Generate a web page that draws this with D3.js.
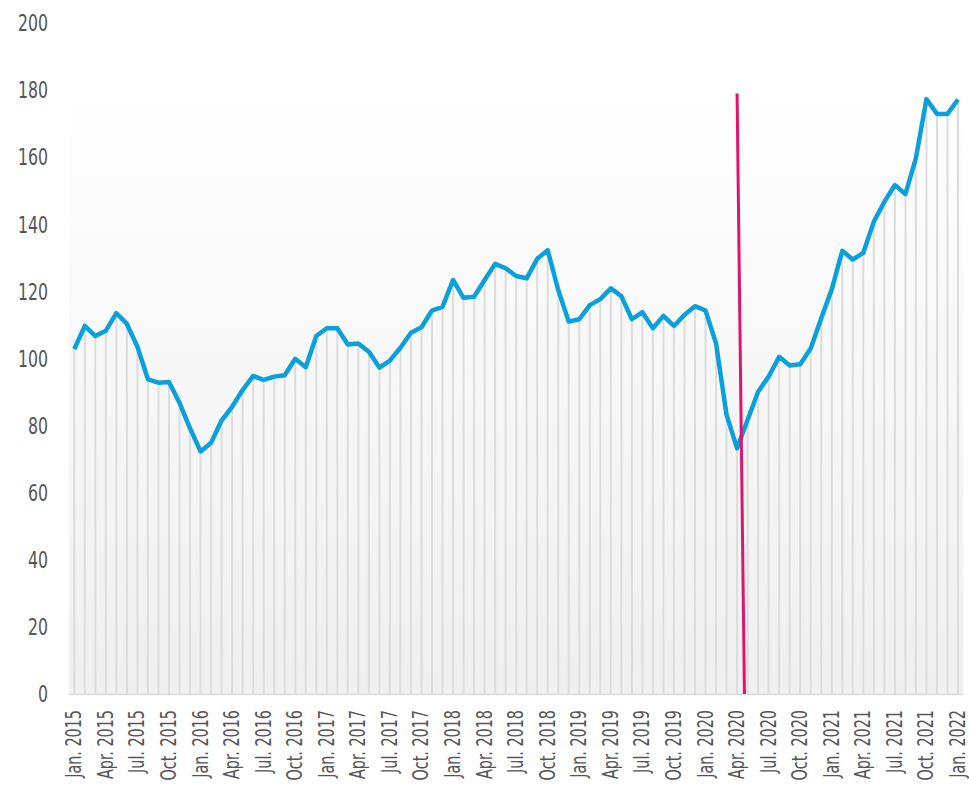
<!DOCTYPE html>
<html>
<head>
<meta charset="utf-8">
<script src="https://cdn.jsdelivr.net/npm/d3@7"></script>
<style>
  body { margin: 0; background: #fff; }
  text { font-family: "DejaVu Sans Condensed", "Liberation Sans Narrow", sans-serif; fill: #555; }
</style>
</head>
<body>
<div class="graph"></div>
<script>
// monthly values, Jan. 2015 .. Jan. 2022
var values = [
  102.8, 109.7, 106.7, 108.3, 113.5, 110.3, 103.5, 93.8, 92.8, 93.0, 86.8, 79.2,
  72.3, 74.9, 81.5, 85.6, 90.6, 94.8, 93.6, 94.6, 95.0, 99.9, 97.4, 106.7,
  109.0, 109.0, 104.2, 104.5, 102.0, 97.3, 99.4, 103.2, 107.7, 109.3, 114.3, 115.4,
  123.4, 118.1, 118.4, 123.4, 128.2, 126.9, 124.6, 123.9, 129.7, 132.3, 120.4, 111.0,
  111.7, 115.9, 117.7, 120.9, 118.6, 111.7, 113.8, 109.0, 112.7, 109.7, 113.0, 115.6,
  114.3, 104.5, 83.2, 73.2, 81.7, 90.1, 94.6, 100.5, 97.9, 98.3, 103.0, 112.0,
  120.6, 132.1, 129.5, 131.5, 140.8, 146.7, 151.7, 149.0, 159.7, 177.3, 172.9, 172.9,
  177.2
]

var tickLabels = [
  "Jan. 2015", "Apr. 2015", "Jul. 2015", "Oct. 2015",
  "Jan. 2016", "Apr. 2016", "Jul. 2016", "Oct. 2016",
  "Jan. 2017", "Apr. 2017", "Jul. 2017", "Oct. 2017",
  "Jan. 2018", "Apr. 2018", "Jul. 2018", "Oct. 2018",
  "Jan. 2019", "Apr. 2019", "Jul. 2019", "Oct. 2019",
  "Jan. 2020", "Apr. 2020", "Jul. 2020", "Oct. 2020",
  "Jan. 2021", "Apr. 2021", "Jul. 2021", "Oct. 2021",
  "Jan. 2022"
]

var yTicks = [0, 20, 40, 60, 80, 100, 120, 140, 160, 180, 200]

// red marker line (month index, value) top -> bottom
var marker = [[63, 179], [63.7, 0]]

var w = 969
var h = 789
var squeeze = 0.76

var x = d3.scaleLinear().domain([0, values.length - 1]).range([74.3, 958])
var y = d3.scaleLinear().domain([0, 200]).range([694, 23])
var step = x(1) - x(0)

var svg = d3.select('.graph')
              .append("svg")
              .attr("width", w)
              .attr("height", h)

var grad = svg.append("defs").append("linearGradient")
  .attr("id", "bg")
  .attr("x1", 0).attr("y1", 0).attr("x2", 0).attr("y2", 1)
grad.append("stop").attr("offset", "0%").attr("stop-color", "#fefefe")
grad.append("stop").attr("offset", "100%").attr("stop-color", "#efefef")

// background block
svg.append("rect")
  .attr("x", x(0) - step / 2)
  .attr("y", y(d3.max(values)))
  .attr("width", x(values.length - 1) - x(0) + step)
  .attr("height", y(0) - y(d3.max(values)))
  .attr("fill", "url(#bg)")

// thin bars
svg.selectAll("rect.bar")
  .data(values)
  .enter()
  .append("rect")
  .attr("class", "bar")
  .attr("x", function(d, i){ return x(i) - 1 })
  .attr("y", function(d){ return y(d) })
  .attr("width", 2)
  .attr("height", function(d){ return y(0) - y(d) })
  .attr("fill", "#dcdcdc")

// baseline
svg.append("line")
  .attr("x1", x(0) - step / 2)
  .attr("x2", x(values.length - 1) + step / 2)
  .attr("y1", y(0) + 0.5)
  .attr("y2", y(0) + 0.5)
  .attr("stroke", "#dcdcdc")
  .attr("stroke-width", 1.5)

// y axis labels
svg.append("g").selectAll("text")
  .data(yTicks)
  .enter()
  .append("text")
  .text(function(d){ return d })
  .attr("transform", function(d){
    return "translate(48," + y(d) + ") scale(" + squeeze + ",1)"
  })
  .attr("dy", "0.36em")
  .attr("text-anchor", "end")
  .attr("font-size", 23)

// x axis labels, every 3rd month
svg.append("g").selectAll("text")
  .data(tickLabels)
  .enter()
  .append("text")
  .text(function(d){ return d })
  .attr("transform", function(d, i){
    return "translate(" + (x(i * 3) + 7) + ",710) rotate(-90) scale(" + squeeze + ",1)"
  })
  .attr("text-anchor", "end")
  .attr("font-size", 21)

// value line
var line = d3.line()
  .x(function(d, i){ return x(i) })
  .y(function(d){ return y(d) })

svg.append("path")
  .datum(values)
  .attr("d", line)
  .attr("fill", "none")
  .attr("stroke", "#0aa0da")
  .attr("stroke-width", 4.5)
  .attr("stroke-linejoin", "round")

// marker
svg.append("line")
  .attr("x1", x(marker[0][0]))
  .attr("y1", y(marker[0][1]))
  .attr("x2", x(marker[1][0]))
  .attr("y2", y(marker[1][1]))
  .attr("stroke", "#e0146c")
  .attr("stroke-width", 3)
</script>
</body>
</html>
